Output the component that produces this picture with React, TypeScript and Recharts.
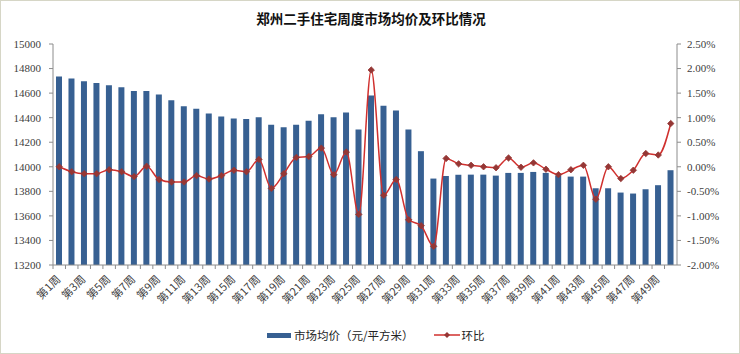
import React from "react";
import { ComposedChart, Bar, Line, XAxis, YAxis } from "recharts";

const weeks: string[] = Array.from({ length: 50 }, (_, i) => `第${i + 1}周`);

const prices: number[] = [
  14735, 14718, 14697, 14683, 14664, 14648, 14618, 14618, 14589, 14542,
  14494, 14472, 14434, 14410, 14394, 14390, 14404, 14342, 14321, 14342,
  14375, 14427, 14404, 14442, 14304, 14580, 14497, 14459, 14304, 14127,
  13904, 13925, 13935, 13936, 13936, 13928, 13950, 13950, 13958, 13950,
  13928, 13920, 13920, 13825, 13825, 13790, 13782, 13817, 13850, 13972,
];

const changes: number[] = [
  0.0, -0.1, -0.14, -0.14, -0.06, -0.1, -0.2, 0.01, -0.26, -0.31,
  -0.31, -0.18, -0.25, -0.18, -0.07, -0.1, 0.15, -0.44, -0.14, 0.19,
  0.21, 0.38, -0.16, 0.3, -0.97, 1.97, -0.58, -0.26, -1.08, -1.2,
  -1.62, 0.17, 0.06, 0.03, 0.0, -0.02, 0.18, -0.01, 0.08, -0.05,
  -0.16, -0.06, 0.03, -0.66, 0.0, -0.24, -0.07, 0.27, 0.24, 0.88,
];

const leftTicks = [13200, 13400, 13600, 13800, 14000, 14200, 14400, 14600, 14800, 15000];
const rightTicks = [-2, -1.5, -1, -0.5, 0, 0.5, 1, 1.5, 2, 2.5];

const TITLE = "郑州二手住宅周度市场均价及环比情况";
const PRICE_NAME = "市场均价（元/平方米）";
const CHANGE_NAME = "环比";

const data = weeks.map((w, i) => ({ week: w, price: prices[i], change: changes[i] }));

const BAR_COLOR = "#376092";
const LINE_COLOR = "#D0302E";
const DOT_COLOR = "#953735";
const AXIS_COLOR = "#8C8C8C";
const CJK = '"Noto Sans CJK SC", "Noto Sans", sans-serif';
const SERIF = '"Liberation Serif", "DejaVu Serif", serif';

const XTick = (props: any) => {
  const { x, y, payload } = props;
  const off = payload && payload.offset ? payload.offset : 6.24;
  return (
    <g>
      <line x1={x - off} y1={y} x2={x - off} y2={y + 4} stroke={AXIS_COLOR} strokeWidth={1} />
      <line x1={x + off} y1={y} x2={x + off} y2={y + 4} stroke={AXIS_COLOR} strokeWidth={1} />
      <text
        x={x + 2}
        y={y + 15}
        textAnchor="end"
        transform={`rotate(-45, ${x + 2}, ${y + 15})`}
        fontSize={11}
        fontFamily={CJK}
        fill="#404040"
      >
        {payload.value}
      </text>
    </g>
  );
};

const Diamond = (props: any) => {
  const { cx, cy, index } = props;
  if (cx == null || cy == null) return <g key={index} />;
  const r = 3.2;
  return (
    <polygon
      key={index}
      points={`${cx},${cy - r} ${cx + r},${cy} ${cx},${cy + r} ${cx - r},${cy}`}
      fill={DOT_COLOR}
      stroke={DOT_COLOR}
      strokeWidth={0.8}
    />
  );
};

export default function App() {
  return (
    <div
      style={{
        position: "absolute",
        left: 0,
        top: 0,
        width: 740,
        height: 354,
        background: "#fff",
        boxSizing: "border-box",
        border: "1px solid #D6D6C6",
        overflow: "hidden",
      }}
    >
      <div
        style={{
          position: "absolute",
          left: 0,
          top: 7,
          width: 740,
          textAlign: "center",
          fontFamily: CJK,
          fontWeight: 700,
          fontSize: 13.5,
          color: "#111",
          lineHeight: "20px",
        }}
      >
        {TITLE}
      </div>
      <div style={{ position: "absolute", left: -1, top: -1 }}>
        <ComposedChart
          width={740}
          height={354}
          data={data}
          margin={{ top: 44, right: 0, bottom: 0, left: 0 }}
          barCategoryGap="50%"
        >
          <XAxis
            dataKey="week"
            height={89}
            interval={1}
            tickLine={false}
            tickSize={0}
            tickMargin={0}
            axisLine={{ stroke: AXIS_COLOR }}
            tick={<XTick />}
          />
          <YAxis
            yAxisId="left"
            width={53}
            domain={[13200, 15000]}
            ticks={leftTicks}
            interval={0}
            tickSize={4}
            tickMargin={8}
            axisLine={{ stroke: AXIS_COLOR }}
            tickLine={{ stroke: AXIS_COLOR }}
            tick={{ fontSize: 11, fontFamily: SERIF, fill: "#404040" }}
            allowDataOverflow
          />
          <YAxis
            yAxisId="right"
            orientation="right"
            width={63}
            domain={[-2, 2.5]}
            ticks={rightTicks}
            interval={0}
            tickSize={4}
            tickMargin={6}
            axisLine={{ stroke: AXIS_COLOR }}
            tickLine={{ stroke: AXIS_COLOR }}
            tickFormatter={(v: number) => `${v.toFixed(2)}%`}
            tick={{ fontSize: 11, fontFamily: SERIF, fill: "#404040", textAnchor: "start" }}
            allowDataOverflow
          />
          <Bar
            yAxisId="left"
            dataKey="price"
            name={PRICE_NAME}
            fill={BAR_COLOR}
            barSize={6}
            isAnimationActive={false}
          />
          <Line
            yAxisId="right"
            type="monotone"
            dataKey="change"
            name={CHANGE_NAME}
            stroke={LINE_COLOR}
            strokeWidth={1.5}
            dot={<Diamond />}
            activeDot={false}
            isAnimationActive={false}
          />
        </ComposedChart>
      </div>
      <div
        style={{
          position: "absolute",
          top: 326,
          left: 266,
          display: "flex",
          alignItems: "center",
          fontFamily: CJK,
          fontSize: 11.5,
          color: "#222",
          whiteSpace: "nowrap",
        }}
      >
        <span style={{ display: "inline-block", width: 24, height: 5, background: BAR_COLOR, marginRight: 3 }} />
        <span>{PRICE_NAME}</span>
        <svg width={26} height={10} style={{ marginLeft: 20, marginRight: 2 }}>
          <line x1={0} y1={5} x2={26} y2={5} stroke={LINE_COLOR} strokeWidth={1.5} />
          <polygon points="13,2 16,5 13,8 10,5" fill={DOT_COLOR} />
        </svg>
        <span>{CHANGE_NAME}</span>
      </div>
    </div>
  );
}
